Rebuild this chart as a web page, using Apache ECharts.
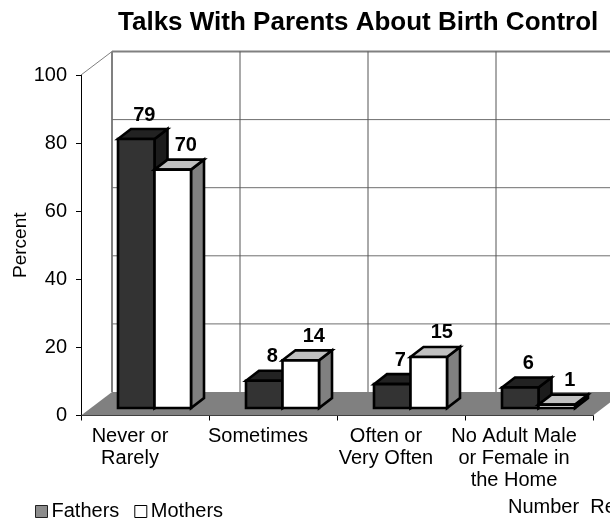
<!DOCTYPE html>
<html><head><meta charset="utf-8">
<style>html,body{margin:0;padding:0;background:#fff}#c{width:610px;height:521px}</style>
<script src="https://cdn.jsdelivr.net/npm/echarts@6/dist/echarts.min.js"></script>
</head><body><div id="c"></div>
<script>
var categories = ['Never or\nRarely', 'Sometimes', 'Often or\nVery Often', 'No Adult Male\nor Female in\nthe Home'];
var fathers = [79, 8, 7, 6];
var mothers = [70, 14, 15, 1];
var yTicks = [0, 20, 40, 60, 80, 100];
var FONT = '"Liberation Sans", Arial, sans-serif';
var chart = echarts.init(document.getElementById('c'));
var depthX = 31, depthY = 23.5;
var lineGrey = '#808080', wallLine = '#6e6e6e';

function wallItem(params, api) {
  var x0 = api.coord([0, 0])[0] - api.size([1, 0])[0] / 2;
  var y0 = api.coord([0, 0])[1];
  var y100 = api.coord([0, 100])[1];
  var step = api.size([1, 0])[0];
  var kids = [];
  var xr = x0 + step * 4;
  kids.push({type: 'polygon', shape: {points: [[x0, y0], [x0 + depthX, y0 - depthY], [xr + depthX, y0 - depthY], [xr, y0]]}, style: {fill: '#808080'}, silent: true});
  kids.push({type: 'line', shape: {x1: x0, y1: y100, x2: x0 + depthX, y2: y100 - depthY}, style: {stroke: lineGrey, lineWidth: 1}});
  kids.push({type: 'line', shape: {x1: x0 + depthX, y1: y100 - depthY, x2: x0 + depthX, y2: y0 - depthY}, style: {stroke: lineGrey, lineWidth: 2}});
  yTicks.forEach(function (t) {
    if (t === 0) return;
    var y = api.coord([0, t])[1] - depthY;
    kids.push({type: 'line', shape: {x1: x0 + depthX, y1: y, x2: xr + depthX, y2: y}, style: {stroke: t === 100 ? lineGrey : wallLine, lineWidth: t === 100 ? 2 : 1}});
  });
  for (var i = 1; i <= 4; i++) {
    kids.push({type: 'line', shape: {x1: x0 + depthX + step * i, y1: y100 - depthY, x2: x0 + depthX + step * i, y2: y0 - depthY}, style: {stroke: '#555', lineWidth: 1}});
  }
  return {type: 'group', children: kids};
}

function barItem(offsetIndex, labelShift, front, top, side) {
  return function (params, api) {
    var c = api.value(0), v = api.value(1);
    var cx = api.coord([c, 0])[0];
    var base = api.coord([c, 0])[1] - 7.5;
    var h = api.size([0, v])[1];
    var w = 36.5, dx = 13, dy = 10;
    var x = cx - 27 + offsetIndex * w, yTop = base - h;
    var st = {stroke: '#000', lineWidth: 2.6, lineJoin: 'miter'};
    return {type: 'group', z2: offsetIndex, children: [
      {type: 'polygon', shape: {points: [[x + w, yTop], [x + w + dx, yTop - dy], [x + w + dx, base - dy], [x + w, base]]}, style: Object.assign({fill: side}, st)},
      {type: 'polygon', shape: {points: [[x, yTop], [x + dx, yTop - dy], [x + w + dx, yTop - dy], [x + w, yTop]]}, style: Object.assign({fill: top}, st)},
      {type: 'rect', shape: {x: x, y: yTop, width: w, height: h}, style: Object.assign({fill: front}, st)},
      {type: 'text', style: {text: String(v), x: x + w / 2 + labelShift, y: yTop - dy - 4, align: 'center', verticalAlign: 'bottom', fill: '#000', font: 'bold 20px ' + FONT}}
    ]};
  };
}

function rows(a) { return a.map(function (v, i) { return [i, v]; }); }

chart.setOption({
  animation: false,
  backgroundColor: '#fff',
  title: {text: 'Talks With Parents About Birth Control', left: 118, top: 10, padding: 0,
    textStyle: {fontFamily: FONT, fontWeight: 'bold', fontSize: 26, color: '#000'}},
  grid: {left: 81, top: 75, width: 512, height: 340.5, containLabel: false, outerBoundsMode: 'none'},
  legend: {left: 35, top: 501.5, padding: 0, itemGap: 15, itemWidth: 12, itemHeight: 12, icon: 'rect', selectedMode: false,
    data: [{name: 'Fathers', itemStyle: {color: '#8c8c8c', borderColor: '#222', borderWidth: 1}},
           {name: 'Mothers', itemStyle: {color: '#fff', borderColor: '#000', borderWidth: 1}}],
    textStyle: {fontFamily: FONT, fontSize: 20, color: '#000', padding: [0, 0, 0, -1]}},
  xAxis: {type: 'category', data: categories, boundaryGap: true,
    axisLine: {lineStyle: {color: '#000', width: 1}},
    axisTick: {show: true, alignWithLabel: false, length: 5, lineStyle: {color: '#000'}},
    axisLabel: {interval: 0, margin: 10, color: '#000', fontFamily: FONT, fontSize: 20, lineHeight: 22, padding: [0, 30, 0, 0]},
    splitLine: {show: false}},
  yAxis: {type: 'value', min: 0, max: 100, interval: 20, name: 'Percent', nameLocation: 'middle', nameGap: 51, nameMoveOverlap: false,
    nameTextStyle: {color: '#000', fontFamily: FONT, fontSize: 19},
    axisLine: {show: true, lineStyle: {color: '#000', width: 1}},
    axisTick: {show: true, length: 5, lineStyle: {color: '#000'}},
    axisLabel: {margin: 14, color: '#000', fontFamily: FONT, fontSize: 20},
    splitLine: {show: false}},
  series: [
    {type: 'custom', name: 'wall', data: [[0, 0]], renderItem: wallItem, silent: true, z: 1, clip: false, encode: {x: 0, y: 1}},
    {type: 'custom', name: 'Fathers', data: rows(fathers), renderItem: barItem(0, 8, '#333333', '#222222', '#1c1c1c'), z: 3, clip: false, encode: {x: 0, y: 1}, itemStyle: {color: '#808080'}},
    {type: 'custom', name: 'Mothers', data: rows(mothers), renderItem: barItem(1, 13, '#ffffff', '#c0c0c0', '#808080'), z: 4, clip: false, encode: {x: 0, y: 1}, itemStyle: {color: '#fff'}}
  ],
  graphic: [{type: 'text', left: 508, top: 497, style: {text: 'Number  Re', fill: '#000', font: '20px ' + FONT}}]
});
</script></body></html>
